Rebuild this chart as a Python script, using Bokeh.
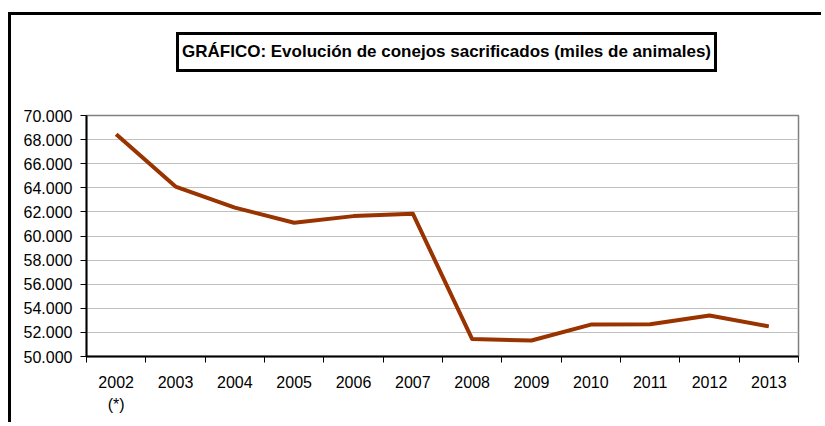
from bokeh.plotting import figure
from bokeh.models import FixedTicker, Range1d, Div
from bokeh.layouts import column
from bokeh.embed import file_html
from bokeh.resources import INLINE

# ---- data ----
years = ["2002", "2003", "2004", "2005", "2006", "2007",
         "2008", "2009", "2010", "2011", "2012", "2013"]
year_notes = ["(*)", "", "", "", "", "", "", "", "", "", "", ""]
values = [68450, 64100, 62350, 61100, 61650, 61850,
          51450, 51330, 52650, 52680, 53400, 52500]
y_ticks = [50000, 52000, 54000, 56000, 58000, 60000, 62000, 64000, 66000, 68000, 70000]
y_tick_labels = ["50.000", "52.000", "54.000", "56.000", "58.000", "60.000",
                 "62.000", "64.000", "66.000", "68.000", "70.000"]
title_text = "GRÁFICO: Evolución de conejos sacrificados (miles de animales)"

FONT = "Liberation Sans"

xs = [i + 0.5 for i in range(len(years))]
x_labels = [y + ("\n" + n if n else "") for y, n in zip(years, year_notes)]

p = figure(width=810, height=350, output_backend="svg", toolbar_location=None,
           x_range=Range1d(0, len(years)), y_range=Range1d(50000, 70000),
           min_border_left=75, min_border_top=43, min_border_right=23,
           min_border_bottom=66)
p.background_fill_color = "white"
p.border_fill_color = "white"
p.outline_line_color = "#808080"
p.outline_line_width = 1.5

p.line(xs, values, line_color="#993300", line_width=4, line_join="round")

# x axis
p.xaxis.ticker = FixedTicker(ticks=xs, minor_ticks=list(range(len(years) + 1)))
p.xaxis.major_label_overrides = {x: l for x, l in zip(xs, x_labels)}
p.xaxis.major_tick_out = 0
p.xaxis.major_tick_in = 0
p.xaxis.minor_tick_out = 6
p.xaxis.minor_tick_in = 0
p.xaxis.minor_tick_line_color = "black"
p.xaxis.minor_tick_line_width = 1
p.xaxis.axis_line_color = "black"
p.xaxis.axis_line_width = 2
p.xaxis.major_label_text_font = FONT
p.xaxis.major_label_text_font_size = "16px"
p.xaxis.major_label_text_color = "black"
p.xaxis.major_label_text_line_height = 1.35
p.xaxis.major_label_standoff = 11

# y axis
p.yaxis.ticker = FixedTicker(ticks=y_ticks)
p.yaxis.major_label_overrides = {t: l for t, l in zip(y_ticks, y_tick_labels)}
p.yaxis.major_tick_out = 6
p.yaxis.major_tick_in = 0
p.yaxis.minor_tick_out = 0
p.yaxis.minor_tick_in = 0
p.yaxis.major_tick_line_color = "black"
p.yaxis.axis_line_color = "black"
p.yaxis.axis_line_width = 2
p.yaxis.major_label_text_font = FONT
p.yaxis.major_label_text_font_size = "16px"
p.yaxis.major_label_text_color = "black"
p.yaxis.major_label_standoff = 8

p.xgrid.visible = False
p.ygrid.ticker = FixedTicker(ticks=y_ticks)
p.ygrid.grid_line_color = "#c0c0c0"
p.ygrid.grid_line_width = 1

title_div = Div(text=title_text, margin=(17, 0, 0, 165),
                styles={"border": "3px solid black", "font-weight": "bold",
                        "font-size": "17px", "font-family": FONT,
                        "line-height": "20px", "padding": "7px 3px 7px 3px",
                        "background": "white", "color": "black",
                        "white-space": "nowrap"})

root = column(title_div, p, margin=(12, 0, 0, 8), spacing=0,
              styles={"border-left": "3px solid black",
                      "border-top": "3px solid black"})

open("out.html", "w").write(file_html(root, INLINE))
